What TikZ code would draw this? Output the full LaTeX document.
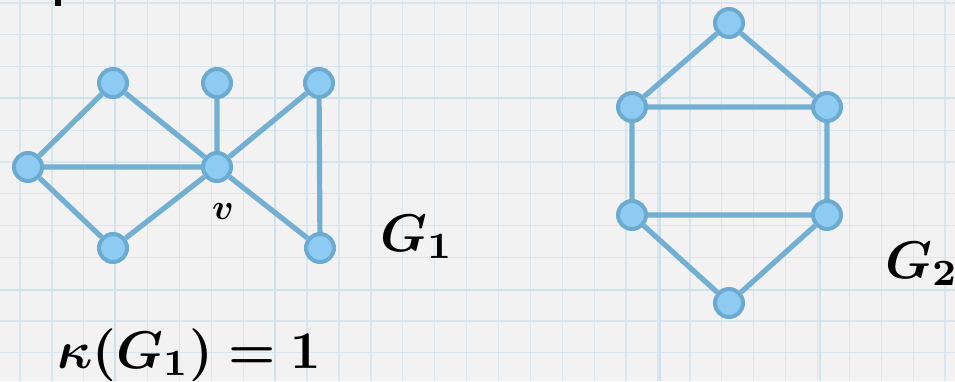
\documentclass[tikz,border=0pt]{standalone}
\usepackage{amsmath,bm}
\definecolor{bgc}{HTML}{F2F2F2}
\definecolor{gridc}{HTML}{D6E7EF}
\definecolor{gridd}{HTML}{CCE2EC}
\definecolor{vfill}{HTML}{8DCBF2}
\definecolor{vline}{HTML}{6DAAD0}
\definecolor{ecol}{HTML}{72AFD3}
\begin{document}
\begin{tikzpicture}[x=1pt,y=-1pt,
  vtx/.style={circle,fill=vfill,draw=vline,line width=4pt,minimum size=28pt,inner sep=0pt},
  edge/.style={draw=ecol,line width=5.2pt},
  gridline/.style={draw=gridc,line width=1.3pt},
  gridmajor/.style={draw=gridd,line width=2.4pt},
  lbl/.style={inner sep=0pt,scale=5.3}]
\useasboundingbox (0,0) rectangle (955,381);
\fill[bgc] (0,0) rectangle (955,381);
% grid paper
\foreach \i in {0,...,29} \draw[gridline] ({20+31.9*\i},0) -- ({20+31.9*\i},381);
\foreach \j in {0,...,11} \draw[gridline] (0,{3+31.8*\j}) -- (955,{3+31.8*\j});
\foreach \xx in {115,275,660,820} \draw[gridmajor] (\xx,0) -- (\xx,381);
\foreach \yy in {98,290} \draw[gridmajor] (0,\yy) -- (955,\yy);
% cut-off mark at top
\fill[black] (55,0) rectangle (61,6);
% G1
\node[vtx] (l)  at (28,167) {};
\node[vtx] (tl) at (113,83) {};
\node[vtx] (bl) at (113,248) {};
\node[vtx] (v)  at (217,167) {};
\node[vtx] (tm) at (217,83) {};
\node[vtx] (tr) at (319,83) {};
\node[vtx] (br) at (320,248) {};
\path[edge] (l) -- (tl) (l) -- (v) (l) -- (bl) (tl) -- (v) (bl) -- (v)
  (v) -- (tm) (v) -- (tr) (v) -- (br) (tr) -- (br);
\node[inner sep=0pt,anchor=base,scale=3.6] (vl) at (223,219) {$\bm{v}$};
\node[lbl,anchor=base west] (g1) at (379,251) {$\bm{G_1}$};
\node[lbl,anchor=base west] (k) at (56,368) {$\bm{\kappa(G_1) = 1}$};
% G2
\node[vtx] (t)  at (729,23) {};
\node[vtx] (ul) at (632,107) {};
\node[vtx] (ur) at (827,107) {};
\node[vtx] (ll) at (632,215) {};
\node[vtx] (lr) at (827,215) {};
\node[vtx] (b)  at (729,303) {};
\path[edge] (t) -- (ul) (t) -- (ur) (ul) -- (ur) (ul) -- (ll) (ur) -- (lr)
  (ll) -- (lr) (ll) -- (b) (lr) -- (b);
\node[lbl,anchor=base west] (g2) at (884,278) {$\bm{G_2}$};
\end{tikzpicture}
\end{document}
